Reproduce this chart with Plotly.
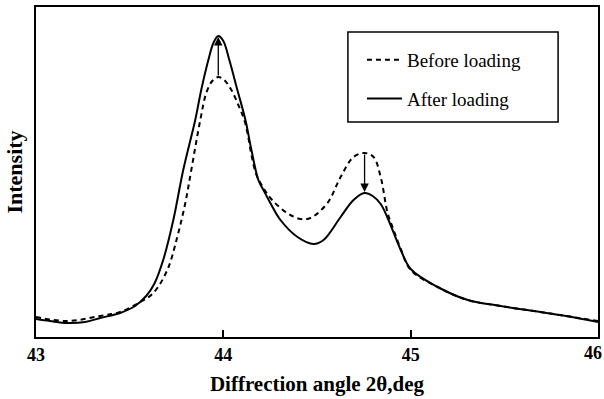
import plotly.graph_objects as go

# ---- data ----
x_before = [43.000, 43.166, 43.342, 43.449, 43.556, 43.626, 43.701, 43.754, 43.797, 43.829,
            43.877, 43.909, 43.941, 43.973, 44.005, 44.043, 44.080, 44.112, 44.134, 44.150,
            44.177, 44.214, 44.251, 44.305, 44.358, 44.412, 44.465, 44.556, 44.626, 44.695,
            44.754, 44.802, 44.840, 44.877, 44.909, 44.947, 45.000, 45.144, 45.305, 45.481,
            45.658, 45.829, 46.000]
y_before = [20, 16, 21, 25, 35, 44, 67, 100, 134, 167,
            217, 244, 256, 260, 257, 247, 232, 217, 199, 182,
            162, 149, 139, 129, 122, 118, 119, 134, 160, 180,
            184, 180, 160, 124, 107, 88, 67, 50, 37, 31,
            26, 21, 16]

x_after = [43.000, 43.075, 43.166, 43.262, 43.342, 43.449, 43.529, 43.588, 43.631, 43.679,
           43.733, 43.786, 43.850, 43.882, 43.920, 43.947, 43.973, 44.000, 44.032, 44.075,
           44.118, 44.150, 44.187, 44.214, 44.251, 44.305, 44.396, 44.481, 44.535, 44.626,
           44.695, 44.754, 44.797, 44.840, 44.877, 44.947, 45.000, 45.144, 45.305, 45.481,
           45.658, 45.829, 46.000]
y_after = [18, 16, 14, 15, 19, 24, 31, 41, 53, 77,
           117, 167, 217, 247, 277, 294, 301, 296, 277, 247,
           217, 187, 157, 147, 134, 117, 100, 93, 97, 120,
           137, 144, 141, 133, 119, 87, 68, 50, 37, 31,
           26, 21, 15]

x_ticks = [43, 44, 45, 46]
series_names = ["Before loading", "After loading"]

FONT = "Liberation Serif"
TICKFONT = dict(family=FONT, size=18, weight="bold", color="black")

fig = go.Figure()
fig.add_trace(go.Scatter(x=x_before, y=y_before, mode="lines", name=series_names[0],
                         legendgroup="a",
                         line=dict(color="black", width=2, dash="5px,4px", shape="spline", smoothing=1)))
fig.add_trace(go.Scatter(x=x_after, y=y_after, mode="lines", name=series_names[1],
                         legendgroup="b",
                         line=dict(color="black", width=2, shape="spline", smoothing=1)))


def peak(xs, ys, lo, hi):
    best = None
    for xv, yv in zip(xs, ys):
        if lo <= xv <= hi and (best is None or yv > best[1]):
            best = (xv, yv)
    return best


# arrows from "before" peaks to "after" peaks
for lo, hi in [(43.5, 44.4), (44.5, 45.0)]:
    xb, yb = peak(x_before, y_before, lo, hi)
    xa, ya = peak(x_after, y_after, lo, hi)
    fig.add_annotation(x=xa, y=ya, ax=xb, ay=yb, xref="x", yref="y", axref="x", ayref="y",
                       showarrow=True, arrowhead=2, arrowsize=1.3, arrowwidth=1.3,
                       arrowcolor="black", standoff=1, text="")

# last tick label, kept inside the page (the axis places it at the very edge)
fig.add_annotation(x=x_ticks[-1], y=0, xref="x", yref="paper", xanchor="right", yanchor="top",
                   yshift=-4, xshift=6, showarrow=False, text=str(x_ticks[-1]), font=TICKFONT)

# legend box
fig.add_shape(type="rect", xref="paper", yref="paper", x0=0.555, x1=0.929, y0=0.6515, y1=0.924,
              line=dict(color="black", width=1.5), fillcolor="rgba(0,0,0,0)")

fig.update_layout(
    width=604, height=399,
    margin=dict(l=36, r=6, t=7, b=62, autoexpand=False),
    paper_bgcolor="white", plot_bgcolor="white",
    font=dict(family=FONT, color="black"),
    showlegend=True,
    legend=dict(x=0.58, y=0.897, xanchor="left", yanchor="top",
                bgcolor="rgba(0,0,0,0)", borderwidth=0,
                font=dict(family=FONT, size=19, color="black"),
                traceorder="grouped", tracegroupgap=11, itemwidth=35),
    xaxis=dict(range=[43, 46], tickvals=x_ticks,
               ticktext=[str(t) for t in x_ticks[:-1]] + [""],
               ticks="inside", ticklen=7, tickwidth=1.5, tickcolor="black",
               automargin=False,
               showline=True, linecolor="black", linewidth=2, mirror=True,
               showgrid=False, zeroline=False,
               tickfont=TICKFONT,
               title=dict(text="Diffrection angle 2θ,deg", standoff=13,
                          font=dict(family=FONT, size=21, weight="bold", color="black"))),
    yaxis=dict(range=[0, 330], showticklabels=False, ticks="", automargin=False,
               showline=True, linecolor="black", linewidth=2, mirror=True,
               showgrid=False, zeroline=False,
               title=dict(text="Intensity", standoff=5,
                          font=dict(family=FONT, size=22, weight="bold", color="black"))),
)

fig.write_html("out.html")
